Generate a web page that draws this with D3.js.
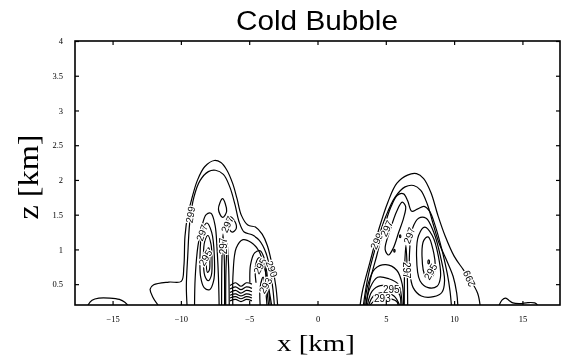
<!DOCTYPE html>
<html><head><meta charset="utf-8">
<script src="https://cdn.jsdelivr.net/npm/d3@7"></script>
<style>body{margin:0;background:#fff} svg{filter:grayscale(1)}</style></head>
<body><svg id="c" width="562" height="361"></svg>
<script>
// ---- axis data ----
const xDomain = [-17.75, 17.75];
const zDomain = [0.2, 4];
const xTicks = [-15, -10, -5, 0, 5, 10, 15];
const zTicks = [0.5, 1, 1.5, 2, 2.5, 3, 3.5, 4];

// ---- contour lines (x km, z km) ----
const farLeft = [[-16.8,0.2],[-16.5,0.27],[-16.0,0.3],[-15.2,0.3],[-14.5,0.28],[-14.1,0.24],[-13.9,0.2]];
const farRight = [[13.3,0.2],[13.5,0.27],[13.75,0.3],[14.0,0.27],[14.3,0.23],[14.8,0.22],[15.4,0.235],[15.9,0.23],[16.1,0.2]];

const left299 = [[-11.67,0.2],[-12.07,0.32],[-12.25,0.43],[-11.99,0.49],[-10.88,0.53],[-9.97,0.54],[-9.78,0.76],[-9.70,1.19],[-9.5,1.49],[-9.2,1.73],[-8.8,1.99],[-8.26,2.19],[-7.55,2.28],[-7.07,2.25],[-6.63,2.14],[-6.21,1.95],[-5.89,1.73],[-5.57,1.49],[-5.10,1.35],[-4.52,1.32],[-4.05,1.22],[-3.66,1.05],[-3.31,0.76],[-3.05,0.47],[-2.92,0.2]];
const left298 = [[-9.55,0.2],[-9.6,0.47],[-9.5,0.90],[-9.35,1.39],[-9.05,1.75],[-8.6,1.99],[-7.99,2.12],[-7.47,2.14],[-6.89,2.08],[-6.42,1.90],[-6.02,1.63],[-5.76,1.41],[-5.37,1.25],[-4.79,1.21],[-4.26,1.13],[-3.79,0.96],[-3.47,0.71],[-3.26,0.42],[-3.16,0.2]];
const left297 = [[-9.0,0.2],[-8.95,0.6],[-8.75,1.05],[-8.5,1.3],[-8.15,1.5],[-7.8,1.52],[-7.5,1.35],[-7.35,1.0],[-7.25,0.6],[-7.2,0.2]];
const left296 = [[-8.6,0.9],[-8.45,1.25],[-8.1,1.38],[-7.75,1.25],[-7.55,0.9],[-7.6,0.55],[-7.9,0.42],[-8.3,0.45],[-8.55,0.6]];
const left295 = [[-8.35,0.88],[-8.25,1.12],[-8.02,1.2],[-7.8,1.08],[-7.72,0.85],[-7.78,0.62],[-8.0,0.55],[-8.25,0.62]];
const left294 = [[-8.15,0.85],[-8.08,1.0],[-7.95,1.02],[-7.88,0.85],[-7.92,0.7],[-8.05,0.67]];
const diamond = [[-7.25,1.58],[-6.95,1.73],[-6.65,1.55],[-6.95,1.46]];
const zigzag = [[-6.65,1.36],[-6.4,1.47],[-6.1,1.42],[-5.95,1.3],[-6.25,1.25],[-6.5,1.3]];
const streak1 = [[-7.02,0.2],[-7.0,0.8],[-6.92,1.22],[-6.82,0.85],[-6.8,0.2]];
const streak2 = [[-6.72,0.2],[-6.7,0.7],[-6.6,1.08],[-6.5,0.72],[-6.46,0.2]];
const wave1 = [[-6.4,0.48],[-6.0,0.52],[-5.6,0.47],[-5.2,0.52],[-4.8,0.5]];
const wave2 = [[-6.4,0.43],[-6.0,0.46],[-5.6,0.42],[-5.2,0.46],[-4.8,0.44]];
const wave3 = [[-6.4,0.38],[-6.0,0.41],[-5.6,0.37],[-5.2,0.41],[-4.8,0.39]];
const wave4 = [[-6.4,0.34],[-6.0,0.36],[-5.6,0.33],[-5.2,0.36],[-4.8,0.34]];
const wave5 = [[-6.4,0.3],[-6.0,0.32],[-5.6,0.29],[-5.2,0.32],[-4.8,0.3]];
const wave6 = [[-6.4,0.26],[-6.0,0.28],[-5.6,0.25],[-5.2,0.28],[-4.8,0.26]];
const lobe1 = [[-6.2,0.2],[-6.18,0.65],[-5.95,1.02],[-5.45,1.14],[-4.85,1.1],[-4.3,0.98],[-3.9,0.76],[-3.58,0.45],[-3.36,0.2]];
const lobe2 = [[-4.95,0.52],[-4.9,0.78],[-4.6,0.95],[-4.2,0.98],[-3.85,0.84],[-3.66,0.58],[-3.47,0.2]];
const lobe3 = [[-4.5,0.52],[-4.55,0.75],[-4.3,0.88],[-4.0,0.86],[-3.82,0.7],[-3.7,0.42],[-3.58,0.2]];
const lobe4 = [[-4.2,0.2],[-4.2,0.45],[-3.98,0.6],[-3.82,0.45],[-3.7,0.2]];

const right299 = [[3.12,0.2],[3.31,0.42],[3.83,0.81],[4.49,1.29],[5.15,1.68],[5.80,1.95],[6.59,2.07],[7.25,2.09],[7.77,2.02],[8.30,1.82],[8.83,1.48],[9.35,1.19],[10.01,0.90],[10.67,0.71],[11.19,0.56],[11.72,0.37],[11.9,0.2]];
const right298 = [[3.36,0.2],[3.70,0.61],[4.36,1.10],[5.01,1.48],[5.67,1.75],[6.41,1.90],[7.04,1.92],[7.56,1.85],[8.04,1.65],[8.43,1.39],[8.88,1.10],[9.48,0.83],[9.93,0.61],[10.19,0.37],[10.27,0.2]];
const right297 = [[3.55,0.2],[3.85,0.55],[4.35,0.92],[4.85,1.3],[5.35,1.6],[5.85,1.78],[6.3,1.8],[6.6,1.7],[6.9,1.55],[7.3,1.58],[7.8,1.62],[8.2,1.55],[8.6,1.35],[9.1,1.0],[9.5,0.65],[9.7,0.4],[9.8,0.2]];
const leaf = [[4.95,1.0],[5.35,1.3],[5.8,1.55],[6.2,1.68],[6.45,1.62],[6.3,1.45],[5.95,1.25],[5.55,1.02],[5.2,0.92]];
const oval1 = [[6.75,1.0],[6.95,1.3],[7.4,1.45],[7.95,1.45],[8.5,1.25],[9.0,0.9],[9.3,0.55],[9.1,0.38],[8.5,0.32],[7.6,0.33],[7.0,0.45],[6.75,0.7]];
const oval2 = [[7.25,0.9],[7.4,1.2],[7.85,1.32],[8.4,1.2],[8.85,0.9],[9.0,0.6],[8.75,0.47],[8.1,0.45],[7.5,0.55]];
const oval3 = [[7.65,0.9],[7.78,1.13],[8.1,1.18],[8.45,1.0],[8.6,0.72],[8.35,0.6],[7.9,0.62]];
const ring = [[8.08,0.82],[8.14,0.85],[8.2,0.82],[8.14,0.79]];
const dotA = [[6.0,1.19],[6.05,1.21],[6.1,1.19],[6.05,1.17]];
const dotB = [[5.58,0.98],[5.63,1.0],[5.68,0.98],[5.63,0.96]];
const spike = [[6.35,0.2],[6.38,0.75],[6.47,1.06],[6.56,0.75],[6.6,0.2]];
const arch1 = [[3.45,0.2],[3.7,0.5],[4.2,0.72],[5.0,0.78],[5.8,0.7],[6.2,0.5],[6.3,0.2]];
const arch2 = [[3.55,0.2],[3.85,0.45],[4.4,0.6],[5.2,0.58],[5.9,0.5],[6.2,0.2]];
const arch3 = [[3.65,0.2],[4.0,0.4],[4.6,0.48],[5.4,0.45],[6.0,0.35],[6.1,0.2]];
const arch4 = [[3.75,0.2],[4.1,0.33],[4.8,0.38],[5.6,0.33],[6.0,0.2]];
const arch5 = [[3.85,0.2],[4.3,0.28],[5.0,0.3],[5.8,0.25],[5.9,0.2]];

const openLines = [farLeft, farRight, left299, left298, left297, streak1, streak2,
  wave1, wave2, wave3, wave4, wave5, wave6, lobe1, lobe2, lobe3, lobe4,
  right299, right298, right297, spike, arch1, arch2, arch3, arch4, arch5];
const closedLines = [left296, left295, left294, diamond, zigzag, leaf, oval1, oval2, oval3, ring, dotA, dotB];

// ---- contour labels ----
const labelText = ["299","297","295","297","297","295","293","290","299","297","297","297","295","293","295","299"];
const labelX    = [-9.3, -8.45,-8.2, -6.9, -6.6, -4.2, -3.8, -3.35, 4.33, 5.06, 6.72, 6.5, 5.4, 4.75, 8.28, 11.1];
const labelZ    = [1.5,  1.24, 0.88, 1.05, 1.36, 0.76, 0.48, 0.72, 1.12, 1.3, 1.2, 0.7, 0.42, 0.3, 0.68, 0.58];
const labelRot  = [-80, -70, -60, -90, -65, -60, -60, 70, -65, -65, -70, 90, 0, 0, -60, -115];

// ---- drawing ----
const L = 75, R = 560, T = 41, B = 305;
const svg = d3.select("#c");
const x = d3.scaleLinear().domain(xDomain).range([L, R]);
const y = d3.scaleLinear().domain(zDomain).range([B, T]);

svg.append("rect").attr("width",562).attr("height",361).attr("fill","#fff");
svg.append("defs").append("clipPath").attr("id","clip")
  .append("rect").attr("x",L).attr("y",T).attr("width",R-L).attr("height",B-T);

const g = svg.append("g").attr("clip-path","url(#clip)");
const lineOpen = d3.line().x(d=>x(d[0])).y(d=>y(d[1])).curve(d3.curveCatmullRom.alpha(0.5));
const lineClosed = d3.line().x(d=>x(d[0])).y(d=>y(d[1])).curve(d3.curveCatmullRomClosed.alpha(0.5));
g.selectAll("path.o").data(openLines).join("path").attr("class","o")
  .attr("d", lineOpen).attr("fill","none").attr("stroke","#000").attr("stroke-width",1.2);
g.selectAll("path.c").data(closedLines).join("path").attr("class","c")
  .attr("d", lineClosed).attr("fill","none").attr("stroke","#000").attr("stroke-width",1.2);

g.selectAll("text.lab").data(labelText).join("text").attr("class","lab")
  .attr("transform",(d,i)=>`translate(${x(labelX[i])},${y(labelZ[i])}) rotate(${labelRot[i]})`)
  .attr("text-anchor","middle").attr("dy","0.35em")
  .attr("font-family","Liberation Sans, Arial, sans-serif").attr("font-size",10)
  .attr("stroke","#fff").attr("stroke-width",2.5).attr("paint-order","stroke")
  .attr("fill","#000").text(d=>d);

// axes (inward ticks)
const fmt = d3.format("");
const axB = svg.append("g").attr("transform",`translate(0,${B})`)
  .call(d3.axisBottom(x).tickValues(xTicks).tickSize(-4).tickPadding(11).tickFormat(fmt));
const axT = svg.append("g").attr("transform",`translate(0,${T})`)
  .call(d3.axisTop(x).tickValues(xTicks).tickSize(-4).tickFormat(""));
const axL = svg.append("g").attr("transform",`translate(${L},0)`)
  .call(d3.axisLeft(y).tickValues(zTicks).tickSize(-4).tickPadding(12).tickFormat(fmt));
const axR = svg.append("g").attr("transform",`translate(${R},0)`)
  .call(d3.axisRight(y).tickValues(zTicks).tickSize(-4).tickFormat(""));
[axB,axT,axL,axR].forEach(a=>{
  a.select(".domain").remove();
  a.selectAll(".tick line").attr("stroke","#000").attr("stroke-width",1.2);
  a.selectAll(".tick text").attr("font-family","Liberation Serif, Times New Roman, serif")
    .attr("font-size",8.5).attr("fill","#000");
});

svg.append("rect").attr("x",L).attr("y",T).attr("width",R-L).attr("height",B-T)
  .attr("fill","none").attr("stroke","#000").attr("stroke-width",1.6);

// titles
svg.append("text").attr("x",317).attr("y",30).attr("text-anchor","middle")
  .attr("font-family","Liberation Sans, Arial, sans-serif").attr("font-size",27)
  .attr("textLength",162).attr("lengthAdjust","spacingAndGlyphs").text("Cold Bubble");
svg.append("text").attr("x",316).attr("y",351).attr("text-anchor","middle")
  .attr("font-family","Liberation Serif, Times New Roman, serif").attr("font-size",24)
  .attr("textLength",78).attr("lengthAdjust","spacingAndGlyphs").text("x [km]");
svg.append("text").attr("transform","translate(38,177) rotate(-90)").attr("text-anchor","middle")
  .attr("font-family","Liberation Serif, Times New Roman, serif").attr("font-size",29)
  .attr("textLength",85).attr("lengthAdjust","spacingAndGlyphs").text("z [km]");
</script></body></html>
